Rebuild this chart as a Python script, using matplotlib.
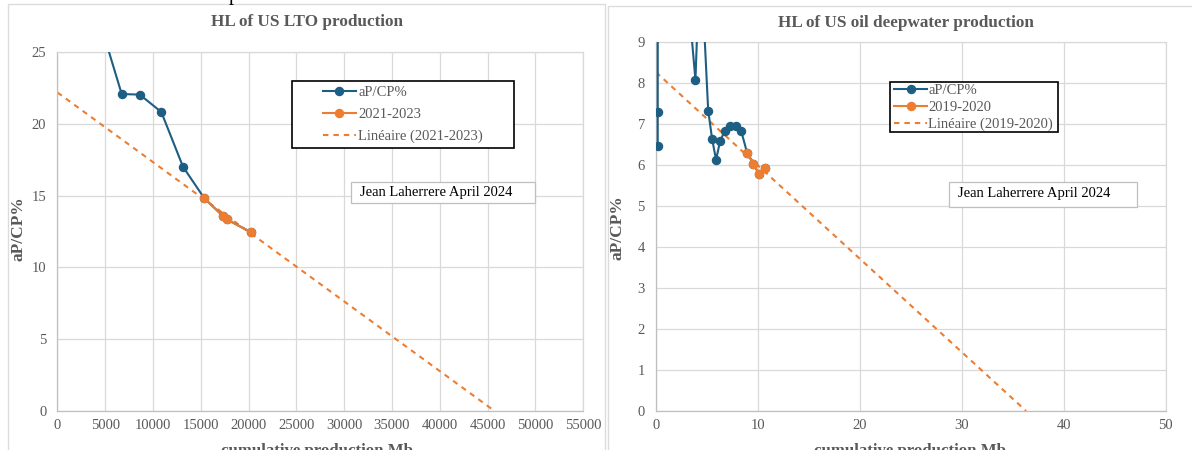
import matplotlib
matplotlib.use('Agg')
import matplotlib.pyplot as plt
from matplotlib.patches import Rectangle

plt.rcParams['font.family'] = ['Liberation Serif', 'DejaVu Serif']

# ---------------- data ----------------
# Left chart: US LTO (cumulative production Mb, aP/CP %)
lto_cum = [4500, 6726, 8609, 10868, 13138, 15366, 17290, 17710, 20251]
lto_hl = [27.0, 22.09, 22.05, 20.84, 17.02, 14.82, 13.60, 13.35, 12.45]
lto_fit_cum = [15366, 17290, 17710, 20251]
lto_fit_hl = [14.82, 13.60, 13.35, 12.45]
lto_trend_cum = [0, 45700]
lto_trend_hl = [22.2, 0.0]
lto_xticks = list(range(0, 55001, 5000))
lto_yticks = [0, 5, 10, 15, 20, 25]

# Right chart: US oil deepwater
dw_cum = [0.17, 0.17, 0.20, 0.5, 1.2, 2.2, 3.3, 3.87, 4.2, 4.5, 5.12, 5.50,
          5.89, 6.29, 6.75, 7.27, 7.83, 8.35, 8.94, 9.56, 10.09, 10.74]
dw_hl = [6.48, 7.31, 40.0, 30.0, 20.0, 13.0, 9.7, 8.08, 10.4, 10.5, 7.33, 6.65,
         6.13, 6.59, 6.84, 6.96, 6.96, 6.84, 6.30, 6.04, 5.78, 5.94]
dw_fit_cum = [8.94, 9.56, 10.09, 10.74]
dw_fit_hl = [6.30, 6.04, 5.78, 5.94]
dw_trend_cum = [0, 36.3]
dw_trend_hl = [8.27, 0.0]
dw_xticks = [0, 10, 20, 30, 40, 50]
dw_yticks = list(range(0, 10))

BLUE = '#1d5e82'
ORANGE = '#ED7D31'
GRAY = '#595959'

W, H = 1192, 450
fig = plt.figure(figsize=(W / 100, H / 100), dpi=100)


def fx(px):
    return px / W


def fy(py):
    return 1 - py / H


# panel borders
fig.patches.append(Rectangle((fx(8.3), fy(460)), fx(605) - fx(8.3), fy(4.3) - fy(460),
                             transform=fig.transFigure, fill=False, ec='#dcdcdc', lw=1.0, zorder=-1))
fig.patches.append(Rectangle((fx(607.7), fy(460)), fx(1210) - fx(607.7), fy(5.5) - fy(460),
                             transform=fig.transFigure, fill=False, ec='#dcdcdc', lw=1.0, zorder=-1))

ax1 = fig.add_axes([fx(57.4), fy(410.8), (583.2 - 57.4) / W, (410.8 - 52.3) / H])
ax2 = fig.add_axes([fx(656), fy(410.9), (1165.7 - 656) / W, (410.9 - 42.3) / H])

for ax in (ax1, ax2):
    ax.grid(True, color='#d9d9d9', lw=0.9)
    ax.set_axisbelow(True)
    ax.tick_params(axis='both', length=0, labelsize=10.5, labelcolor=GRAY)
    ax.tick_params(axis='y', pad=8)
    ax.tick_params(axis='x', pad=6)
    for s in ax.spines.values():
        s.set_color('#d9d9d9')
        s.set_linewidth(0.9)
    ax.spines['left'].set_color('#bfbfbf')
    ax.spines['bottom'].set_color('#bfbfbf')

# left chart
l_tr, = ax1.plot(lto_trend_cum, lto_trend_hl, color=ORANGE, lw=1.5, ls=(0, (2.6, 2.4)), zorder=2)
l_bl, = ax1.plot(lto_cum, lto_hl, color=BLUE, lw=1.5, marker='o', ms=5.8, zorder=3)
l_or, = ax1.plot(lto_fit_cum, lto_fit_hl, color=ORANGE, lw=1.5, marker='o', ms=5.8, zorder=4)
ax1.set_xlim(0, 55000)
ax1.set_ylim(0, 25)
ax1.set_xticks(lto_xticks)
ax1.set_yticks(lto_yticks)

# right chart
r_tr, = ax2.plot(dw_trend_cum, dw_trend_hl, color=ORANGE, lw=1.5, ls=(0, (2.6, 2.4)), zorder=2)
r_bl, = ax2.plot(dw_cum, dw_hl, color=BLUE, lw=1.5, marker='o', ms=5.8, zorder=3)
r_or, = ax2.plot(dw_fit_cum, dw_fit_hl, color=ORANGE, lw=1.5, marker='o', ms=5.8, zorder=4)
ax2.set_xlim(0, 50)
ax2.set_ylim(0, 9)
ax2.set_xticks(dw_xticks)
ax2.set_yticks(dw_yticks)

# titles
fig.text(fx(306.7), fy(21.7), 'HL of US LTO production', ha='center', va='center',
         fontsize=12.3, fontweight='bold', color=GRAY)
fig.text(fx(905.7), fy(23), 'HL of US oil deepwater production', ha='center', va='center',
         fontsize=12.3, fontweight='bold', color=GRAY)

# axis labels
fig.text(fx(18.3), fy(229), 'aP/CP%', rotation=90, ha='center', va='center',
         fontsize=12.5, fontweight='bold', color=GRAY)
fig.text(fx(618), fy(228), 'aP/CP%', rotation=90, ha='center', va='center',
         fontsize=12.5, fontweight='bold', color=GRAY)
fig.text(fx(317), fy(455), 'cumulative production Mb', ha='center', va='baseline',
         fontsize=12.1, fontweight='bold', color=GRAY)
fig.text(fx(910), fy(455), 'cumulative production Mb', ha='center', va='baseline',
         fontsize=12.1, fontweight='bold', color=GRAY)

# descender of a cut-off caption
fig.text(fx(233.3), 1.0, 'p', ha='center', va='baseline', fontsize=14.4, color='black')

# legends
fig.patches.append(Rectangle((fx(291.6), fy(147.7)), fx(513.6) - fx(291.6), fy(81) - fy(147.7),
                             transform=fig.transFigure, fill=True, fc='white', ec='black', lw=1.2, zorder=5))
leg1 = fig.legend([l_bl, l_or, l_tr], ['aP/CP%', '2021-2023', 'Linéaire (2021-2023)'],
                  loc='upper left', bbox_to_anchor=(fx(323), fy(86)), bbox_transform=fig.transFigure,
                  frameon=False, borderpad=0, borderaxespad=0, handlelength=2.26,
                  handletextpad=0.15, labelspacing=0.6, prop={'size': 10.5}, labelcolor=GRAY)
leg1.set_zorder(6)

fig.patches.append(Rectangle((fx(889.5), fy(131.7)), fx(1058) - fx(889.5), fy(81.7) - fy(131.7),
                             transform=fig.transFigure, fill=True, fc='white', ec='black', lw=1.2, zorder=5))
leg2 = fig.legend([r_bl, r_or, r_tr], ['aP/CP%', '2019-2020', 'Linéaire (2019-2020)'],
                  loc='upper left', bbox_to_anchor=(fx(894.5), fy(84)), bbox_transform=fig.transFigure,
                  frameon=False, borderpad=0, borderaxespad=0, handlelength=2.2,
                  handletextpad=0.1, labelspacing=0.26, prop={'size': 10.5}, labelcolor=GRAY)
leg2.set_zorder(6)

# author boxes
fig.patches.append(Rectangle((fx(351), fy(203.3)), fx(534.6) - fx(351), fy(181.7) - fy(203.3),
                             transform=fig.transFigure, fill=True, fc='white', ec='#bfbfbf', lw=0.9, zorder=5))
fig.text(fx(359.7), fy(192.5), 'Jean Laherrere April 2024', ha='left', va='center',
         fontsize=10.5, color='black', zorder=6)
fig.patches.append(Rectangle((fx(949), fy(206.7)), fx(1136.8) - fx(949), fy(181.7) - fy(206.7),
                             transform=fig.transFigure, fill=True, fc='white', ec='#bfbfbf', lw=0.9, zorder=5))
fig.text(fx(957.9), fy(193.8), 'Jean Laherrere April 2024', ha='left', va='center',
         fontsize=10.5, color='black', zorder=6)

fig.savefig('out.png', dpi=100)
